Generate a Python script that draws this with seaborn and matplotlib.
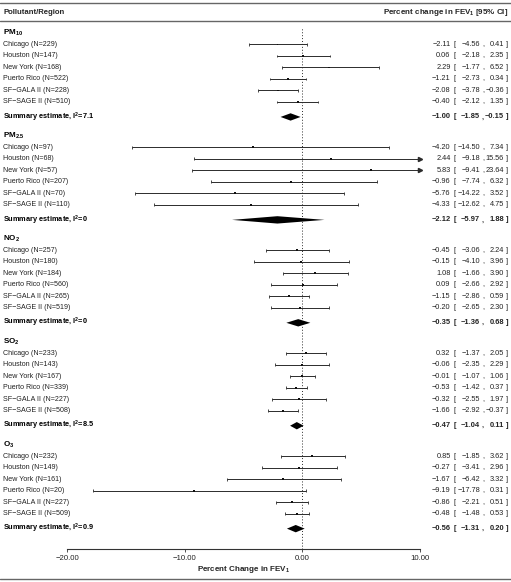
import numpy as np
import pandas as pd
import matplotlib
matplotlib.use("Agg")
import matplotlib.pyplot as plt
import matplotlib.transforms as mtransforms
from matplotlib.lines import Line2D
import seaborn as sns

# ---- data ----
pollutants = [r"PM$_\mathbf{10}$", r"PM$_\mathbf{2.5}$", r"NO$_\mathbf{2}$", r"SO$_\mathbf{2}$", r"O$_\mathbf{3}$"]
regions = ["Chicago", "Houston", "New York", "Puerto Rico", "SF\u2212GALA II", "SF\u2212SAGE II"]
n_obs = [[229, 147, 168, 522, 228, 510],
         [97, 68, 57, 207, 70, 110],
         [257, 180, 184, 560, 265, 519],
         [233, 143, 167, 339, 227, 508],
         [232, 149, 161, 20, 227, 509]]
est = [[-2.11, 0.06, 2.29, -1.21, -2.08, -0.40],
       [-4.20, 2.44, 5.83, -0.96, -5.76, -4.33],
       [-0.45, -0.15, 1.08, 0.09, -1.15, -0.20],
       [0.32, -0.06, -0.01, -0.53, -0.32, -1.66],
       [0.85, -0.27, -1.67, -9.19, -0.86, -0.48]]
lower = [[-4.56, -2.18, -1.77, -2.73, -3.78, -2.12],
         [-14.50, -9.18, -9.41, -7.74, -14.22, -12.62],
         [-3.06, -4.10, -1.66, -2.66, -2.86, -2.65],
         [-1.37, -2.35, -1.07, -1.42, -2.55, -2.92],
         [-1.85, -3.41, -6.42, -17.78, -2.21, -1.48]]
upper = [[0.41, 2.35, 6.52, 0.34, -0.36, 1.35],
         [7.34, 15.56, 23.64, 6.32, 3.52, 4.75],
         [2.24, 3.96, 3.90, 2.92, 0.59, 2.30],
         [2.05, 2.29, 1.06, 0.37, 1.97, -0.37],
         [3.62, 2.96, 3.32, 0.31, 0.51, 0.53]]
i2 = ["7.1", "0", "0", "8.5", "0.9"]
sum_est = [-1.00, -2.12, -0.35, -0.47, -0.56]
sum_lo = [-1.85, -5.97, -1.36, -1.04, -1.31]
sum_hi = [-0.15, 1.88, 0.68, 0.11, 0.20]
xticks = [-20, -10, 0, 10]

W, H = 511, 582
PERIOD = 8.95      # rows per pollutant block
SUM_OFF = 7.3      # summary row offset inside a block
ROW_PX = 11.5
TOP_PX = 33

sns.set_theme(style="white")
plt.rcParams["font.family"] = ["Liberation Sans", "DejaVu Sans"]
plt.rcParams["mathtext.fontset"] = "custom"
plt.rcParams["mathtext.rm"] = "Liberation Sans"
plt.rcParams["mathtext.bf"] = "Liberation Sans:bold"
plt.rcParams["mathtext.it"] = "Liberation Sans:italic"


def fmt(v):
    return f"{v:.2f}".replace("-", "\u2212")


rows = []
for k in range(len(pollutants)):
    for i in range(len(regions)):
        rows.append(dict(block=k, y=k * PERIOD + 1 + i, est=est[k][i],
                         lo=lower[k][i], hi=upper[k][i],
                         label=f"{regions[i]} (N={n_obs[k][i]})"))
df = pd.DataFrame(rows)
df["hi_c"] = df["hi"].clip(upper=10)

fig = plt.figure(figsize=(W / 100, H / 100), dpi=100)
ax = fig.add_axes([67 / W, (H - 549) / H, 353 / W, (549 - 27) / H])
ax.set_xlim(-20, 10)
ax.set_ylim((549 - TOP_PX) / ROW_PX, (27 - TOP_PX) / ROW_PX)

lc = "#2b2b2b"
ax.axvline(0, color=lc, lw=0.7, ls=(0, (1, 2)), zorder=1)

# study CIs
ax.hlines(df["y"], df["lo"], df["hi_c"], color=lc, lw=0.7, zorder=2)
ax.vlines(df["lo"], df["y"] - 0.13, df["y"] + 0.13, color=lc, lw=0.6)
capped = df[df["hi"] <= 10]
ax.vlines(capped["hi"], capped["y"] - 0.13, capped["y"] + 0.13, color=lc, lw=0.6)
arrowed = df[df["hi"] > 10]
ax.plot(arrowed["hi_c"], arrowed["y"], ls="none", marker=">", ms=3, color=lc, clip_on=False)
sns.scatterplot(data=df, x="est", y="y", marker="s", s=2, color="#111111",
                edgecolor="none", ax=ax, legend=False, zorder=3)

# summary diamonds
h = 0.32
for k in range(len(pollutants)):
    ys = k * PERIOD + SUM_OFF
    ax.fill([sum_lo[k], sum_est[k], sum_hi[k], sum_est[k]],
            [ys, ys - h, ys, ys + h], color="black", lw=0, zorder=3)

# axis styling
for s in ["top", "right", "left"]:
    ax.spines[s].set_visible(False)
ax.spines["bottom"].set_color("#333333")
ax.spines["bottom"].set_linewidth(0.8)
ax.set_yticks([])
ax.set_xticks(xticks)
ax.set_xticklabels([fmt(t) for t in xticks], fontsize=5.6, color="#222222")
ax.tick_params(axis="x", direction="out", length=2.5, width=0.6, color="#333333", pad=2, bottom=True)
ax.set_xlabel(r"Percent Change in FEV$_\mathbf{1}$", fontsize=5.8, fontweight="bold", labelpad=1.5)
ax.set_ylabel("")

# text columns
tr = mtransforms.blended_transform_factory(fig.transFigure, ax.transData)
X_LAB = 3 / W
X_EST = 450.5 / W
X_LB = 454.5 / W
X_LO = 480 / W
X_COMMA = 483 / W
X_UP = 504 / W
X_RB = 507 / W
fs_lab, fs_num = 5.1, 5.3
tcol = "#222222"


def ci_text(y, e, l, u, bold=False, size=fs_num):
    kw = dict(transform=tr, va="center", fontsize=size,
              fontweight="bold" if bold else "normal", color=tcol)
    ax.text(X_EST, y, fmt(e), ha="right", **kw)
    ax.text(X_LB, y, "[", ha="center", **kw)
    ax.text(X_LO, y, fmt(l), ha="right", **kw)
    ax.text(X_COMMA, y, ",", ha="center", **kw)
    ax.text(X_UP, y, fmt(u), ha="right", **kw)
    ax.text(X_RB, y, "]", ha="center", **kw)


for k in range(len(pollutants)):
    y0 = k * PERIOD
    ax.text(X_LAB, y0, pollutants[k], transform=tr, ha="left", va="center",
            fontsize=5.8, fontweight="bold", color="black")
    ys = y0 + SUM_OFF
    ax.text(X_LAB, ys, r"Summary estimate, I$^\mathbf{2}$=" + i2[k], transform=tr, ha="left",
            va="center", fontsize=5.3, fontweight="bold", color="black")
    ci_text(ys, sum_est[k], sum_lo[k], sum_hi[k], bold=True, size=5.4)

for _, r in df.iterrows():
    ax.text(X_LAB, r["y"], r["label"], transform=tr, ha="left", va="center", fontsize=fs_lab, color=tcol)
    ci_text(r["y"], r["est"], r["lo"], r["hi"])

# header and rules
fig.text(3 / W, 1 - 12 / H, "Pollutant/Region", ha="left", va="center", fontsize=5.6, fontweight="bold")
fig.text(508.5 / W, 1 - 12 / H, r"Percent change in FEV$_\mathregular{1}$ [95% CI]", ha="right",
         va="center", fontsize=5.8, fontweight="bold")
for yp in [2.5, 20.5, 578.5]:
    fig.add_artist(Line2D([0, 1], [1 - yp / H] * 2, transform=fig.transFigure, color="#666666", lw=1.0))

fig.savefig("out.png", dpi=100)
